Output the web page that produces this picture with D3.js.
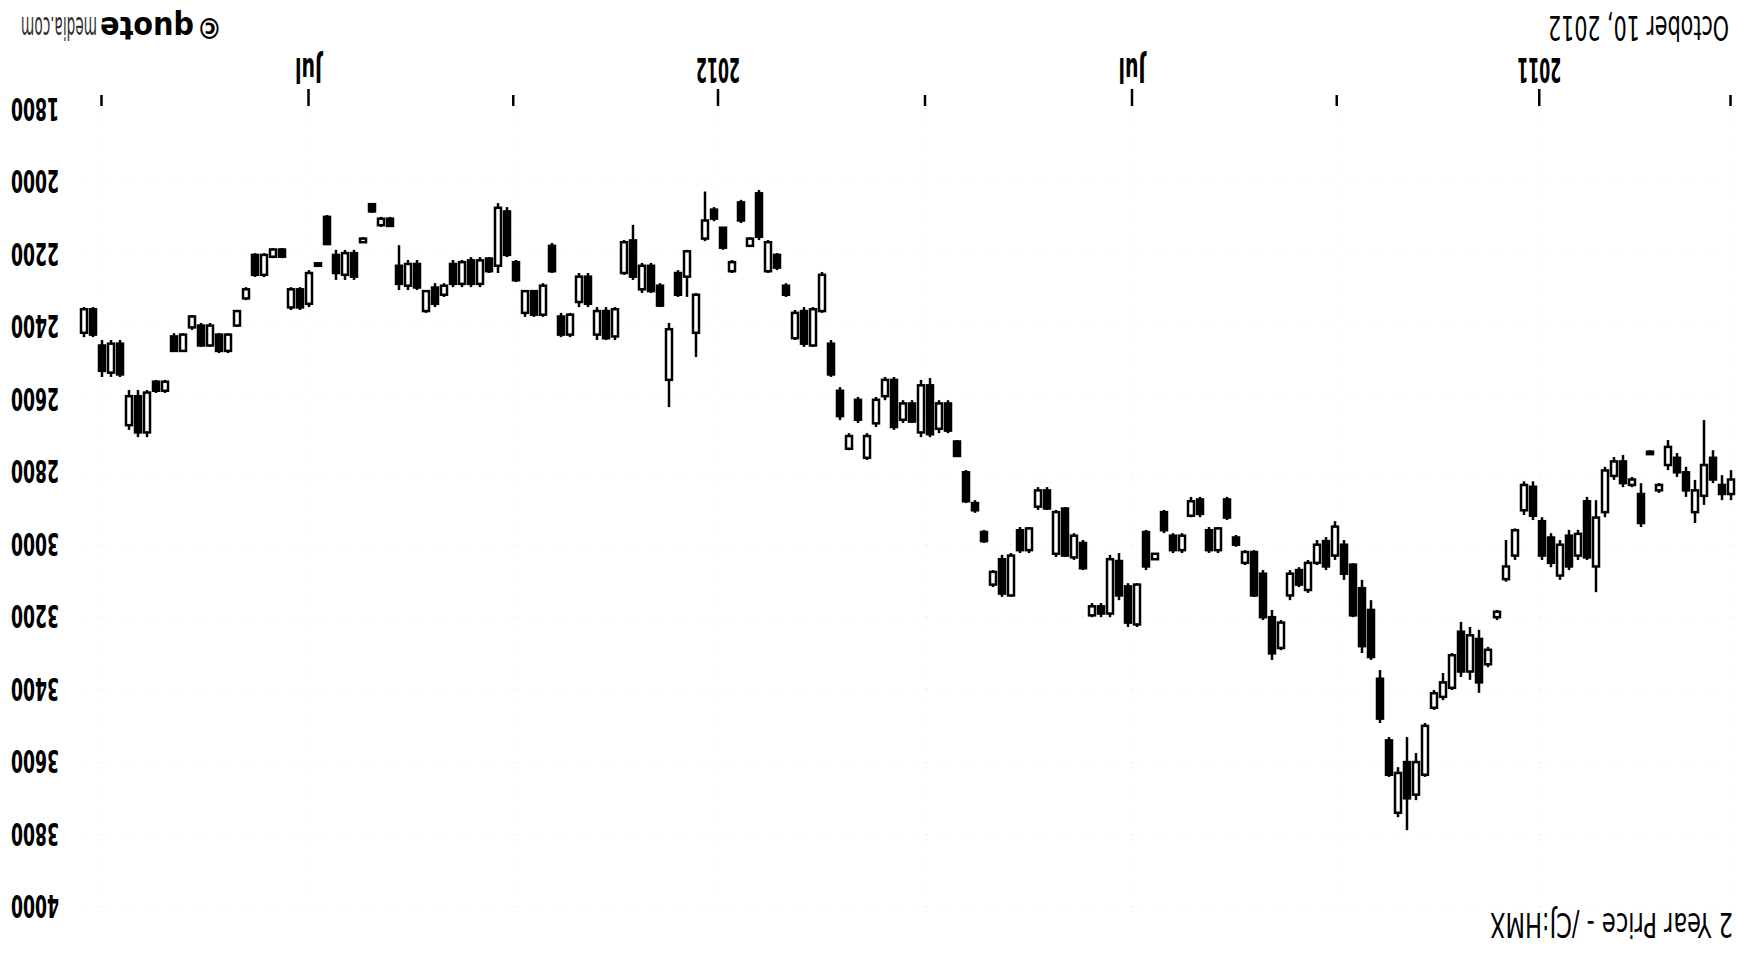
<!DOCTYPE html>
<html><head><meta charset="utf-8">
<script src="https://cdn.jsdelivr.net/npm/d3@7"></script>
<style>html,body{margin:0;padding:0;background:#fff;} svg{display:block;}</style>
</head><body>
<svg id="chart" width="1740" height="957"></svg>
<script>
const dates = [
"2010-10-08","2010-10-12","2010-10-16","2010-10-20","2010-10-24","2010-10-28","2010-11-01","2010-11-05","2010-11-09","2010-11-13",
"2010-11-17","2010-11-21","2010-11-25","2010-11-29","2010-12-03","2010-12-07","2010-12-11","2010-12-15","2010-12-19","2010-12-23",
"2010-12-27","2010-12-31","2011-01-04","2011-01-08","2011-01-12","2011-01-16","2011-01-20","2011-01-24","2011-01-28","2011-02-01",
"2011-02-05","2011-02-09","2011-02-13","2011-02-17","2011-02-21","2011-02-25","2011-03-01","2011-03-05","2011-03-09","2011-03-13",
"2011-03-17","2011-03-21","2011-03-25","2011-03-29","2011-04-02","2011-04-06","2011-04-10","2011-04-14","2011-04-18","2011-04-22",
"2011-04-26","2011-04-30","2011-05-04","2011-05-08","2011-05-12","2011-05-16","2011-05-20","2011-05-24","2011-05-28","2011-06-01",
"2011-06-05","2011-06-09","2011-06-13","2011-06-17","2011-06-21","2011-06-25","2011-06-29","2011-07-03","2011-07-07","2011-07-11",
"2011-07-15","2011-07-19","2011-07-23","2011-07-27","2011-07-31","2011-08-04","2011-08-08","2011-08-12","2011-08-16","2011-08-20",
"2011-08-24","2011-08-28","2011-09-01","2011-09-05","2011-09-09","2011-09-13","2011-09-17","2011-09-21","2011-09-25","2011-09-29",
"2011-10-03","2011-10-07","2011-10-11","2011-10-15","2011-10-19","2011-10-23","2011-10-27","2011-10-31","2011-11-04","2011-11-08",
"2011-11-12","2011-11-16","2011-11-20","2011-11-24","2011-11-28","2011-12-02","2011-12-06","2011-12-10","2011-12-14","2011-12-18",
"2011-12-22","2011-12-26","2011-12-30","2012-01-03","2012-01-07","2012-01-11","2012-01-15","2012-01-19","2012-01-23","2012-01-27",
"2012-01-31","2012-02-04","2012-02-08","2012-02-12","2012-02-16","2012-02-20","2012-02-24","2012-02-28","2012-03-03","2012-03-07",
"2012-03-11","2012-03-15","2012-03-19","2012-03-23","2012-03-27","2012-03-31","2012-04-04","2012-04-08","2012-04-12","2012-04-16",
"2012-04-20","2012-04-24","2012-04-28","2012-05-02","2012-05-06","2012-05-10","2012-05-14","2012-05-18","2012-05-22","2012-05-26",
"2012-05-30","2012-06-03","2012-06-07","2012-06-11","2012-06-15","2012-06-19","2012-06-23","2012-06-27","2012-07-01","2012-07-05",
"2012-07-09","2012-07-13","2012-07-17","2012-07-21","2012-07-25","2012-07-29","2012-08-02","2012-08-06","2012-08-10","2012-08-14",
"2012-08-18","2012-08-22","2012-08-26","2012-08-30","2012-09-03","2012-09-07","2012-09-11","2012-09-15","2012-09-19","2012-09-23",
"2012-09-27","2012-10-01","2012-10-05","2012-10-09"];

const opens = [
2820,2860,2820,2780,2850,2850,2800,2730,2835,2745,
2940,2820,2830,2770,2795,2925,3035,2970,3060,3000,
3050,3030,2920,2835,2960,3060,3185,3290,3380,3250,
3350,3305,3380,3410,3500,3600,3700,3630,3635,3480,
3310,3280,3195,3080,2950,3060,3000,3050,3110,3080,
3215,3300,3200,3140,3020,3000,2925,2955,3015,2915,
2880,2975,3015,2960,3025,3060,3110,3215,3140,3040,
3190,3170,3065,2975,3030,2910,2900,2850,2955,3015,
3030,3135,3075,2990,2905,2880,2755,2685,2610,2695,
2560,2660,2610,2675,2545,2600,2700,2655,2700,2645,
2530,2255,2350,2445,2360,2310,2235,2165,2150,2155,
2105,2220,2180,2100,2105,2310,2190,2310,2405,2340,
2300,2230,2260,2165,2350,2430,2355,2335,2260,2365,
2420,2245,2285,2365,2300,2270,2200,2070,2245,2215,
2280,2220,2280,2285,2335,2300,2290,2225,2280,2120,
2100,2080,2155,2260,2195,2250,2170,2225,2250,2345,
2295,2205,2185,2200,2255,2295,2355,2420,2465,2395,
2450,2370,2420,2465,2550,2575,2580,2690,2590,2530,
2445,2520,2420,2350];

const highs = [
2877,2877,2830,2890,2940,2868,2813,2794,2857,2752,
2951,2841,2841,2821,2924,3131,3042,3042,3070,3097,
3062,3042,2932,2918,3042,3102,3208,3338,3409,3373,
3365,3401,3429,3456,3641,3705,3788,3752,3641,3492,
3318,3299,3200,3097,3042,3070,3056,3133,3117,3153,
3291,3318,3208,3144,3056,3006,2932,3023,3023,2924,
2924,3023,3023,2968,3042,3070,3227,3227,3153,3200,
3200,3200,3070,3042,3034,3034,2904,2904,3023,3023,
3144,3144,3117,2995,2912,2885,2758,2692,2692,2703,
2703,2664,2664,2683,2601,2675,2766,2664,2739,2656,
2537,2360,2454,2454,2435,2316,2242,2250,2159,2178,
2112,2250,2186,2107,2162,2482,2316,2316,2620,2344,
2305,2305,2269,2255,2435,2435,2435,2344,2344,2427,
2427,2250,2371,2371,2371,2275,2206,2250,2250,2289,
2289,2289,2289,2316,2344,2360,2297,2297,2297,2123,
2123,2084,2167,2269,2269,2269,2173,2233,2344,2352,
2352,2209,2209,2261,2261,2325,2399,2471,2471,2454,
2454,2407,2468,2468,2581,2581,2703,2703,2683,2537,
2537,2537,2427,2427];

const lows = [
2794,2808,2739,2656,2821,2785,2747,2711,2830,2739,
2830,2813,2752,2758,2785,2877,2868,2959,2959,2987,
2968,2924,2825,2825,2955,2987,3180,3282,3235,3227,
3213,3299,3354,3401,3492,3575,3531,3614,3531,3346,
3153,3097,3051,2987,2935,2979,2987,3042,3062,3070,
3208,3180,3070,3015,3015,2973,2868,2951,2951,2868,
2868,2968,2968,2904,3023,2959,3106,3106,3023,3028,
3161,3161,2987,2968,2896,2904,2841,2841,2951,2951,
3023,3028,3070,2959,2877,2794,2711,2601,2601,2540,
2545,2601,2601,2537,2537,2592,2692,2592,2692,2565,
2435,2247,2344,2344,2352,2278,2195,2159,2021,2151,
2048,2214,2123,2068,2025,2305,2186,2242,2388,2278,
2222,2222,2117,2159,2344,2344,2344,2250,2250,2360,
2360,2167,2278,2297,2297,2214,2068,2057,2206,2206,
2206,2214,2214,2278,2278,2297,2214,2214,2173,2095,
2095,2057,2151,2186,2186,2186,2090,2222,2242,2289,
2289,2181,2181,2195,2195,2289,2352,2416,2416,2388,
2388,2366,2416,2416,2545,2545,2573,2573,2573,2435,
2435,2435,2344,2344];

const closes = [
2860,2835,2760,2865,2910,2800,2760,2780,2850,2750,
2860,2835,2770,2810,2910,3060,2880,3030,2975,3085,
2980,2935,2840,2905,3030,3095,3200,3330,3260,3350,
3240,3395,3420,3450,3635,3690,3600,3740,3540,3370,
3180,3120,3055,3000,3030,2990,3050,3125,3070,3140,
3285,3200,3080,3020,3050,2980,2875,3015,2960,2875,
2920,3015,2975,2910,3040,2965,3220,3115,3045,3190,
3170,3195,2995,3035,2900,3025,2850,2895,3015,2960,
3140,3040,3110,2965,2885,2800,2715,2610,2680,2560,
2690,2610,2655,2545,2590,2665,2760,2600,2735,2575,
2445,2355,2450,2355,2430,2285,2200,2245,2030,2175,
2055,2245,2125,2075,2155,2415,2260,2250,2545,2285,
2230,2295,2160,2250,2425,2355,2420,2260,2330,2420,
2370,2175,2365,2300,2360,2220,2080,2230,2210,2280,
2215,2280,2225,2310,2290,2355,2225,2285,2230,2100,
2118,2060,2165,2195,2255,2200,2095,2230,2335,2295,
2345,2185,2205,2255,2200,2320,2395,2465,2420,2450,
2395,2400,2465,2425,2575,2550,2690,2590,2670,2445,
2525,2450,2350,2415];

const priceTicks = [1800,2000,2200,2400,2600,2800,3000,3200,3400,3600,3800,4000];
const timeTicks = ["2010-10-08","2011-01-01","2011-04-01","2011-07-01","2011-10-01","2012-01-01","2012-04-01","2012-07-01","2012-10-01"];
const timeTickLabels = ["","2011","","Jul","","2012","","Jul",""];
const titleText = "2 Year Price - /CJ:HMX";
const dateText = "October 10, 2012";
const creditMark = "\u00A9";
const creditBold = "quote";
const creditRest = "media.com";

const W = 1740, H = 957;
const FONT = "'Liberation Sans Narrow','DejaVu Sans Condensed','Liberation Sans',sans-serif";
const parse = d3.timeParse("%Y-%m-%d");
const data = dates.map((d, i) => ({date: parse(d), o: opens[i], h: highs[i], l: lows[i], c: closes[i]}));

const svg = d3.select("#chart");
svg.append("rect").attr("width", W).attr("height", H).attr("fill", "#fff");
// The reference picture is shown turned upside down: draw normally, then rotate 180 degrees.
const g = svg.append("g").attr("transform", `rotate(180 ${W/2} ${H/2})`);

const x = d3.scaleTime().domain([parse("2010-10-08"), parse("2012-10-01")]).range([9, 1638]);
const y = d3.scaleLinear().domain([1800, 4000]).range([847, 50]);

// faint dotted grid
const grid = g.append("g").attr("stroke", "#e2e2e2").attr("stroke-width", 1).attr("stroke-dasharray", "1,11");
grid.selectAll("line.h").data(priceTicks.slice(1)).join("line").attr("class", "h")
  .attr("x1", 9).attr("x2", 1665).attr("y1", d => y(d)).attr("y2", d => y(d));
grid.selectAll("line.v").data(timeTicks).join("line").attr("class", "v")
  .attr("x1", d => x(parse(d))).attr("x2", d => x(parse(d))).attr("y1", 50).attr("y2", 847);

// x axis
const xAxis = d3.axisBottom(x).tickValues(timeTicks.map(parse)).tickSize(12).tickPadding(0)
  .tickFormat((d, i) => timeTickLabels[i]);
const xg = g.append("g").attr("transform", "translate(0,851)").call(xAxis);
xg.select(".domain").remove();
xg.selectAll(".tick line").attr("stroke", "#000").attr("stroke-width", 2.5)
  .attr("y2", (d, i) => timeTickLabels[i] ? 17 : 11);
const XS = 1.22;
xg.selectAll(".tick text").attr("fill", "#000").attr("font-family", FONT).attr("font-weight", "bold")
  .attr("font-size", 28).attr("y", 48 / XS).attr("dy", 0).attr("transform", `scale(1,${XS})`)
  .each(function(d, i) {
    const t = timeTickLabels[i];
    if (t) d3.select(this).attr("textLength", t.length === 4 ? 44 : 27).attr("lengthAdjust", "spacingAndGlyphs");
  });

// y axis labels (right side), condensed tall digits
const YS = 1.24;
const yAxis = d3.axisRight(y).tickValues(priceTicks).tickSize(0).tickPadding(0).tickFormat(d3.format("d"));
const yg = g.append("g").attr("transform", "translate(1681,0)").call(yAxis);
yg.select(".domain").remove();
yg.selectAll(".tick text").attr("fill", "#000").attr("font-family", FONT).attr("font-weight", "bold")
  .attr("font-size", 26).attr("x", 0).attr("dy", 0).attr("y", 11.5 / YS)
  .attr("transform", `scale(1,${YS})`)
  .attr("text-anchor", "start").attr("textLength", 48).attr("lengthAdjust", "spacingAndGlyphs");

// candles
const bw = 6;
const cg = g.append("g");
cg.selectAll("line.wick").data(data).join("line").attr("class", "wick")
  .attr("x1", d => x(d.date)).attr("x2", d => x(d.date))
  .attr("y1", d => y(d.h)).attr("y2", d => y(d.l))
  .attr("stroke", "#000").attr("stroke-width", 2.5);
cg.selectAll("rect.body").data(data).join("rect").attr("class", "body")
  .attr("x", d => x(d.date) - bw / 2).attr("width", bw)
  .attr("y", d => y(Math.max(d.o, d.c)))
  .attr("height", d => Math.max(2.5, Math.abs(y(d.o) - y(d.c))))
  .attr("fill", d => d.c >= d.o ? "#fff" : "#000")
  .attr("stroke", "#000").attr("stroke-width", 2.5);

// texts (tall condensed type: smaller font stretched vertically)
const TS = 1.2;
g.append("g").attr("transform", `translate(7,44) scale(1,${TS})`)
  .append("text").attr("x", 0).attr("y", 0).attr("font-family", FONT).attr("font-size", 28)
  .attr("fill", "#000").attr("textLength", 243).attr("lengthAdjust", "spacingAndGlyphs").text(titleText);
g.append("g").attr("transform", `translate(11,941) scale(1,${TS})`)
  .append("text").attr("x", 0).attr("y", 0).attr("font-family", FONT).attr("font-size", 28)
  .attr("fill", "#000").attr("textLength", 181).attr("lengthAdjust", "spacingAndGlyphs").text(dateText);
g.append("text").attr("x", 1518).attr("y", 939).attr("font-family", FONT).attr("font-size", 28)
  .attr("font-weight", "bold").attr("fill", "#000").text(creditMark);
g.append("g").attr("transform", `translate(1546,940) scale(1,${TS})`)
  .append("text").attr("font-family", FONT).attr("font-size", 27)
  .attr("font-weight", "bold").attr("fill", "#000")
  .attr("textLength", 94).attr("lengthAdjust", "spacingAndGlyphs").text(creditBold);
g.append("g").attr("transform", `translate(1643,940) scale(1,${TS})`)
  .append("text").attr("font-family", FONT).attr("font-size", 27)
  .attr("fill", "#333").attr("textLength", 76).attr("lengthAdjust", "spacingAndGlyphs").text(creditRest);
</script>
</body></html>
